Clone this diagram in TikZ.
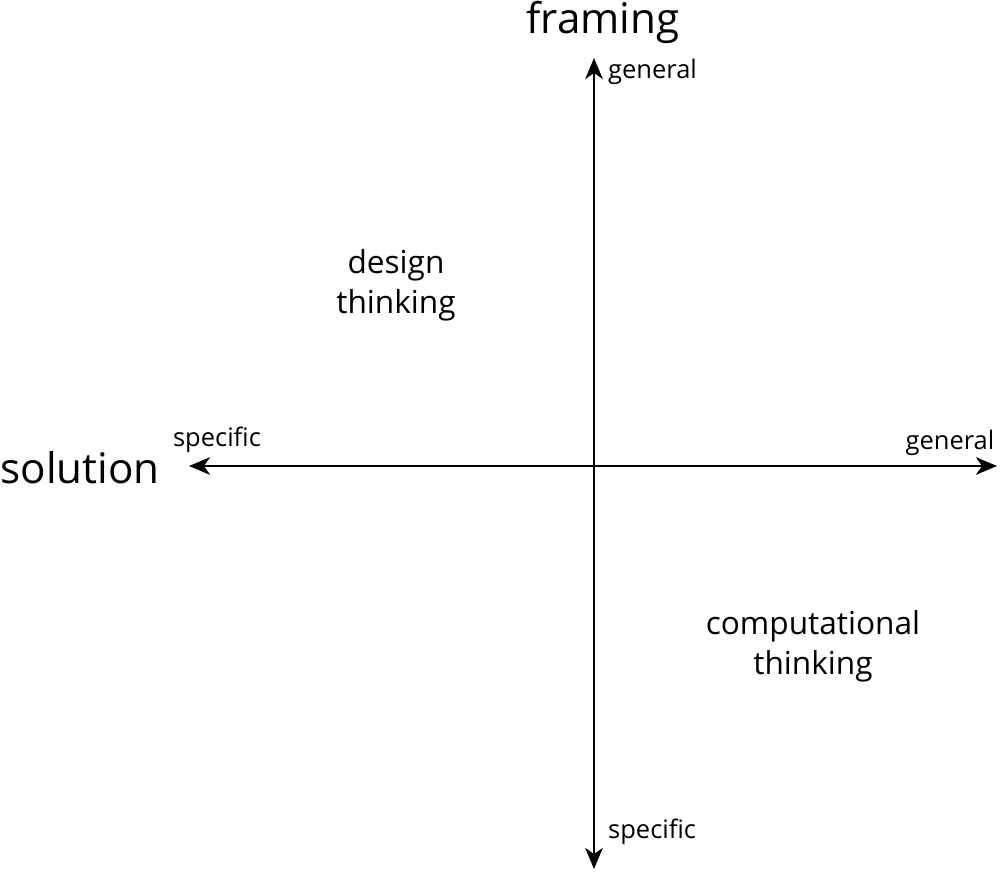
\documentclass[tikz,border=0pt]{standalone}
\usepackage{fontspec}
\setmainfont{Open Sans}
\usetikzlibrary{arrows.meta}

\begin{document}
\begin{tikzpicture}[x=0.02cm,y=-0.02cm]
\tikzset{ax/.style={line width=1.25pt,{Stealth[length=12pt,width=10pt,inset=3.5pt]}-{Stealth[length=12pt,width=10pt,inset=3.5pt]}},
  big/.style={font=\fontsize{24}{28}\selectfont},
  mid/.style={font=\fontsize{18}{23}\selectfont,align=center},
  tick/.style={font=\fontsize{14.5}{17}\selectfont}}
\useasboundingbox (0,0) rectangle (1000,873);

\coordinate (top) at (594,58);
\coordinate (bot) at (594,869);
\coordinate (lft) at (189,466);
\coordinate (rgt) at (997,466);
\draw[ax] (bot) -- (top);
\draw[ax] (lft) -- (rgt);

\node[big] (framing) at (603,22) {framing};
\node[big] (solution) at (80,468) {solution};
\node[tick,anchor=west] (tgen) at (602,72) {general};
\node[tick,anchor=west] (bspec) at (602,832) {specific};
\node[tick] (lspec) at (217,440) {specific};
\node[tick] (rgen) at (950,443) {general};
\node[mid] (design) at (396,285) {design\\thinking};
\node[mid] (comp) at (813,646) {computational\\thinking};
\end{tikzpicture}
\end{document}
